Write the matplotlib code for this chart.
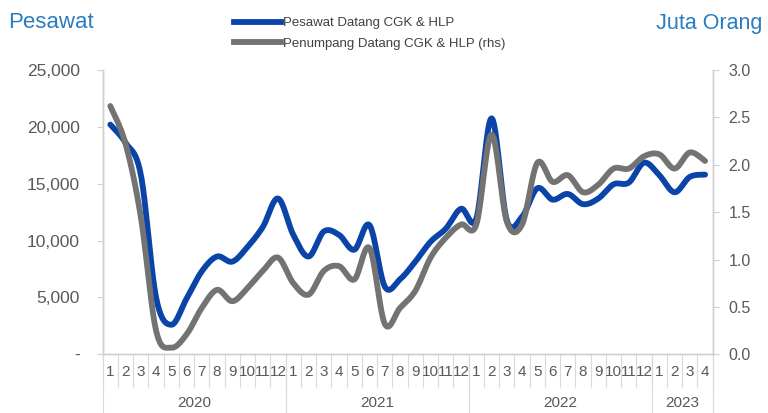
import numpy as np
import matplotlib
matplotlib.use("Agg")
import matplotlib.pyplot as plt
from matplotlib.lines import Line2D
import matplotlib.transforms as mtransforms
from matplotlib import font_manager

plt.rcParams['font.family'] = ['Liberation Sans', 'DejaVu Sans']

# ---- data ----
years = ["2020", "2021", "2022", "2023"]
months_per_year = [12, 12, 12, 4]
month_labels = [str(m) for n in months_per_year for m in range(1, n + 1)]

pesawat = [20200, 18600, 15800, 5000, 2600, 4900, 7300, 8600, 8150, 9450,
           11200, 13700, 10500, 8600, 10800, 10500, 9200, 11350, 5950, 6600,
           8150, 9900, 11050, 12800, 11950, 20750, 11800, 12100, 14600, 13600,
           14100, 13200, 13700, 14950, 15100, 16850, 15750, 14250, 15600, 15800]
penumpang = [2.62, 2.22, 1.45, 0.25, 0.07, 0.21, 0.49, 0.68, 0.56, 0.70,
             0.88, 1.02, 0.75, 0.63, 0.88, 0.93, 0.79, 1.12, 0.32, 0.49,
             0.67, 1.02, 1.23, 1.37, 1.37, 2.32, 1.40, 1.37, 2.02, 1.82,
             1.89, 1.71, 1.79, 1.96, 1.96, 2.09, 2.11, 1.96, 2.13, 2.04]

left_ticks = [0, 5000, 10000, 15000, 20000, 25000]
left_labels = ["-", "5,000", "10,000", "15,000", "20,000", "25,000"]
right_ticks = [0.0, 0.5, 1.0, 1.5, 2.0, 2.5, 3.0]

BLUE = "#0A44A8"
GRAY = "#737373"
TITLE = "#2B7BC0"
TXT = "#595959"
AX = "#D0D0D0"


def smooth(y, n=20):
    """Excel-like smoothed line (Catmull-Rom Bezier)"""
    y = np.asarray(y, float)
    x = np.arange(len(y), dtype=float)
    P = np.column_stack([x, y])
    Pe = np.vstack([P[0], P, P[-1]])
    out = []
    t = np.linspace(0, 1, n, endpoint=False)[:, None]
    for i in range(len(P) - 1):
        p0, p1, p2, p3 = Pe[i], Pe[i + 1], Pe[i + 2], Pe[i + 3]
        b1 = p1 + (p2 - p0) / 6
        b2 = p2 - (p3 - p1) / 6
        seg = ((1 - t) ** 3) * p1 + 3 * ((1 - t) ** 2) * t * b1 + 3 * (1 - t) * t ** 2 * b2 + t ** 3 * p2
        out.append(seg)
    out.append(P[-1][None, :])
    out = np.vstack(out)
    return out[:, 0], out[:, 1]


names = {f.name for f in font_manager.fontManager.ttflist}
legend_family = ['Liberation Sans Narrow'] if 'Liberation Sans Narrow' in names else ['Liberation Sans']
legend_size = 11.5 if 'Liberation Sans Narrow' in names else 9.5

W, H = 768, 413
fig = plt.figure(figsize=(W / 100, H / 100), dpi=100)
L, R, T, B = 102.7, 712.7, 70, 354.3
ax = fig.add_axes([L / W, 1 - B / H, (R - L) / W, (B - T) / H])
ax2 = ax.twinx()

n = len(pesawat)
xs, ys = smooth(pesawat)
ax.plot(xs, ys, color=BLUE, lw=4.2, solid_capstyle='round', zorder=3)
xs2, ys2 = smooth(penumpang)
ax2.plot(xs2, ys2, color=GRAY, lw=4.2, solid_capstyle='round', zorder=3)

ax.set_xlim(-0.5, n - 0.5)
ax.set_ylim(0, 25000)
ax2.set_ylim(0, 3.0)

for a in (ax, ax2):
    for s in a.spines.values():
        s.set_color(AX)
        s.set_linewidth(1.0)
    a.spines['top'].set_visible(False)

ax.set_yticks(left_ticks)
ax.set_yticklabels(left_labels)
ax.tick_params(axis='y', length=4, color=AX, labelsize=12.5, labelcolor=TXT, pad=12.5)
ax2.set_yticks(right_ticks)
ax2.set_yticklabels([f"{v:.1f}" for v in right_ticks])
ax2.tick_params(axis='y', length=4, color=AX, labelsize=11.5, labelcolor=TXT, pad=7.5)

# category axis: boundaries as major ticks, labels at centers as minor ticks
bounds = np.arange(n + 1) - 0.5
ax.set_xticks(bounds)
ax.set_xticklabels([])
ax.tick_params(axis='x', which='major', length=24, color="#D9D9D9", width=0.8)
ax.set_xticks(np.arange(n), minor=True)
ax.set_xticklabels(month_labels, minor=True)
ax.tick_params(axis='x', which='minor', length=0, labelsize=11, labelcolor=TXT, pad=8)

# year groups
trans = mtransforms.blended_transform_factory(ax.transData, ax.transAxes)
start = 0
yb = [0]
for yr, cnt in zip(years, months_per_year):
    ax.text(start + cnt / 2 - 0.5, -0.17, yr, transform=trans, ha='center', va='center',
            fontsize=11, color=TXT)
    start += cnt
    yb.append(start)
for b in yb:
    ax.add_line(Line2D([b - 0.5, b - 0.5], [0, -0.21], transform=trans, color="#D9D9D9",
                       lw=0.8, clip_on=False))

# titles
fig.text(8 / W, 1 - 23 / H, "Pesawat", fontsize=16, color=TITLE, ha='left', va='center')
fig.text(762 / W, 1 - 23 / H, "Juta Orang", fontsize=15.5, color=TITLE, ha='right', va='center')

handles = [Line2D([], [], color=BLUE, lw=4.2), Line2D([], [], color=GRAY, lw=4.2)]
fig.legend(handles, ["Pesawat Datang CGK & HLP", "Penumpang Datang CGK & HLP (rhs)"],
           loc='upper left', bbox_to_anchor=(230 / W, 1 - 13 / H), frameon=False,
           prop={'family': legend_family, 'size': legend_size},
           handlelength=3.6, handletextpad=0.1, labelspacing=0.62,
           borderaxespad=0, borderpad=0.3, labelcolor="#404040")

fig.savefig("out.png", dpi=100)
